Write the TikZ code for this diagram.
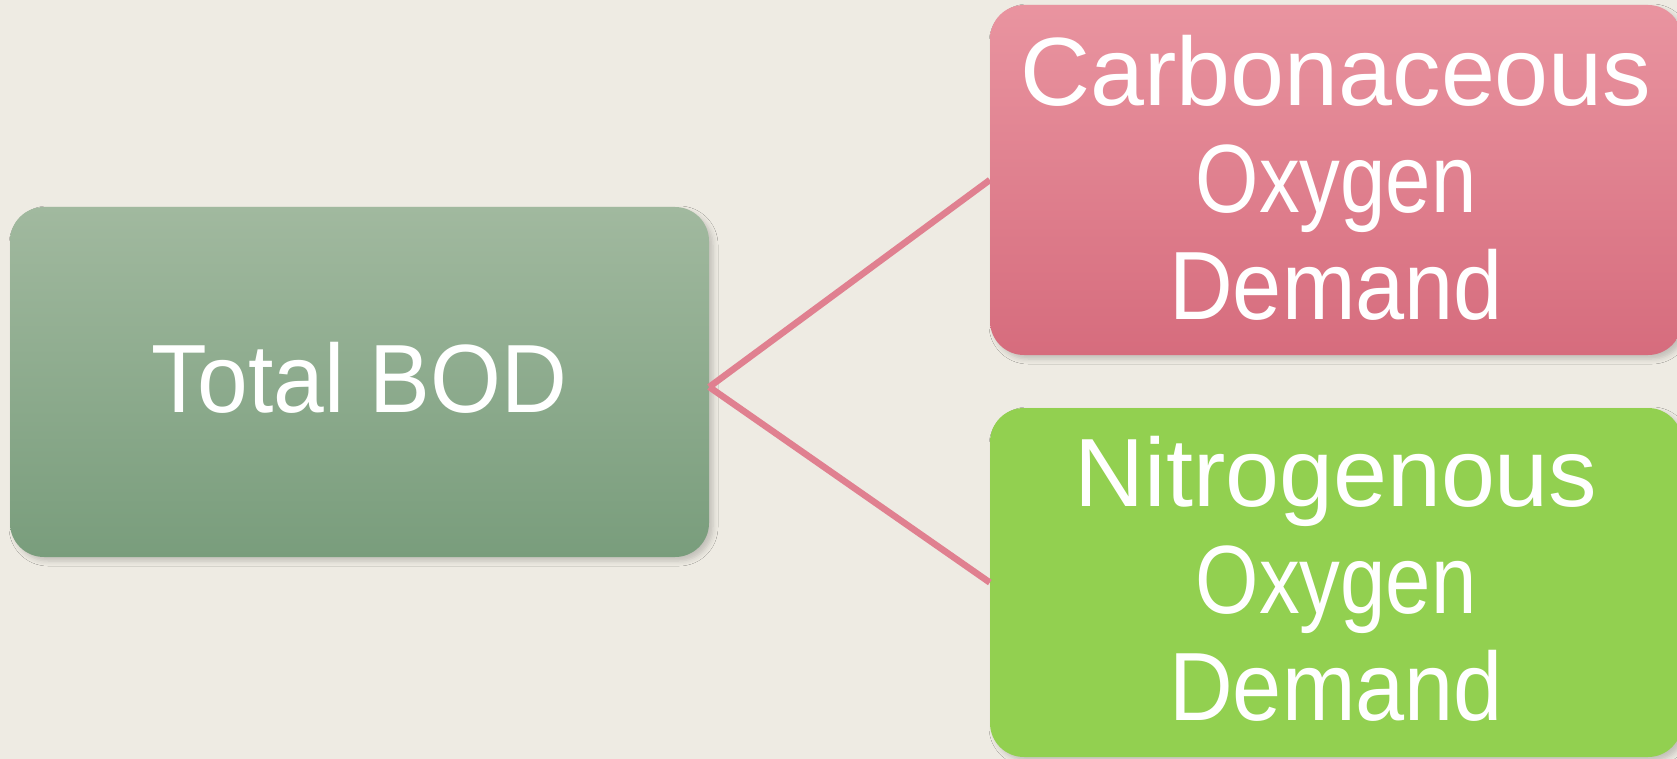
\documentclass[tikz,border=0pt]{standalone}
\usepackage{fontspec}
\setmainfont{Liberation Sans}
\usetikzlibrary{shadows.blur}
\definecolor{bgc}{RGB}{238,235,227}
\definecolor{gtop}{RGB}{161,185,159}
\definecolor{gbot}{RGB}{121,157,124}
\definecolor{ptop}{RGB}{233,148,160}
\definecolor{pbot}{RGB}{214,108,125}
\definecolor{lgreen}{RGB}{146,208,80}
\definecolor{linkc}{RGB}{224,128,144}
\newcommand{\upby}[2]{\raisebox{#1}[\height][\depth]{#2}}
\tikzset{
  boxbase/.style={rounded corners=34pt, inner sep=0pt, align=center, text=white,
    font=\fontsize{97}{107}\selectfont,
    blur shadow={shadow xshift=4pt, shadow yshift=-4pt, shadow blur radius=5pt, shadow opacity=18}},
  graybox/.style={boxbase, top color=gtop, bottom color=gbot},
  pinkbox/.style={boxbase, top color=ptop, bottom color=pbot},
  limebox/.style={boxbase, fill=lgreen},
  link/.style={draw=linkc, line width=6.5pt}
}
\begin{document}
\begin{tikzpicture}[x=1pt,y=-1pt]
\useasboundingbox (0,0) rectangle (1677,759);
\fill[bgc] (0,0) rectangle (1677,759);
\node[graybox, minimum width=699pt, minimum height=350pt] (tb) at (359.5,382) {\upby{4pt}{\scalebox{0.94}[1]{Total BOD}}};
\node[pinkbox, minimum width=692pt, minimum height=350pt] (cb) at (1336,180) {\upby{2pt}{Carbonaceous}\\\upby{2pt}{\scalebox{0.84}[1]{Oxygen}}\\\upby{2pt}{\scalebox{0.91}[1]{Demand}}};
\node[limebox, minimum width=692pt, minimum height=349pt] (nb) at (1336,582.5) {\upby{4pt}{Nitrogenous}\\\upby{4pt}{\scalebox{0.84}[1]{Oxygen}}\\\upby{4pt}{\scalebox{0.91}[1]{Demand}}};
\coordinate (hub) at ([yshift=-5pt]tb.east);
\draw[link] (hub) -- (cb.west);
\draw[link] (hub) -- (nb.west);
\end{tikzpicture}
\end{document}
